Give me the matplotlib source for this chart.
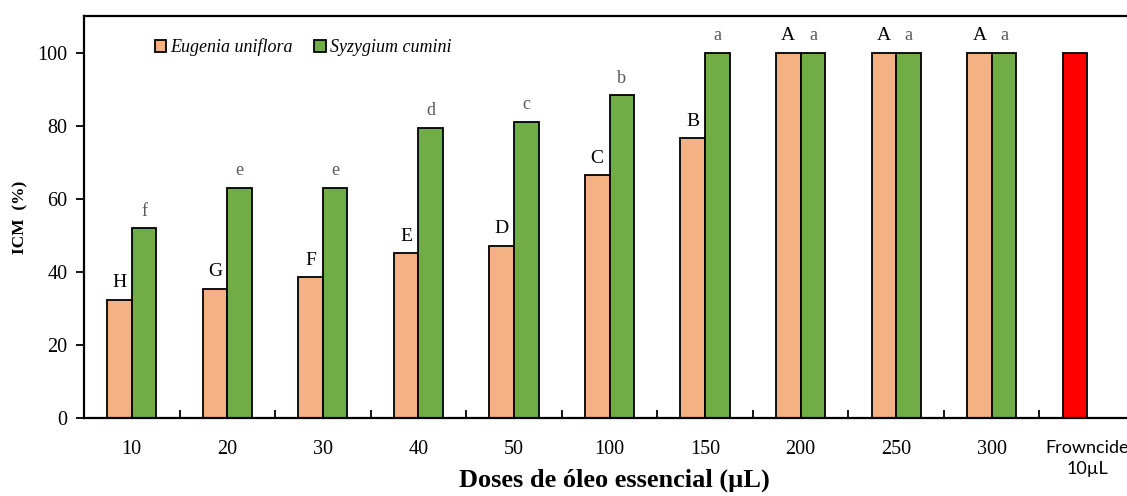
import matplotlib.pyplot as plt
import numpy as np

categories = ["10", "20", "30", "40", "50", "100", "150", "200", "250", "300", "Frowncide\n10µL"]
eugenia = [32.4, 35.4, 38.5, 45.1, 47.2, 66.4, 76.5, 100, 100, 100]
syzygium = [52.0, 63.0, 63.0, 79.4, 81.1, 88.3, 100, 100, 100, 100]
frowncide = 100
eugenia_letters = ["H", "G", "F", "E", "D", "C", "B", "A", "A", "A"]
syzygium_letters = ["f", "e", "e", "d", "c", "b", "a", "a", "a", "a"]

orange = "#F4B183"
green = "#70AD47"
red = "#FF0000"
serif = "Liberation Serif"

W, H = 1127, 496
fig = plt.figure(figsize=(W / 100, H / 100), dpi=100)
ax = fig.add_axes([84 / W, (H - 418) / H, (1131 - 84) / W, (418 - 16) / H])

width = 0.257
x = np.arange(len(eugenia))
b1 = ax.bar(x - width / 2, eugenia, width, color=orange, edgecolor="black",
            linewidth=1.3, label="Eugenia uniflora", zorder=2)
b2 = ax.bar(x + width / 2, syzygium, width, color=green, edgecolor="black",
            linewidth=1.3, label="Syzygium cumini", zorder=2)
ax.bar([len(eugenia) - width / 2], [frowncide], width, color=red,
       edgecolor="black", linewidth=1.3, zorder=2)

for xi, v, t in zip(x, eugenia, eugenia_letters):
    ax.text(xi - width / 2, v + 2.3, t, ha="center", va="bottom",
            fontsize=14, family=serif, color="black")
for xi, v, t in zip(x, syzygium, syzygium_letters):
    ax.text(xi + width / 2, v + 2.3, t, ha="center", va="bottom",
            fontsize=13, family=serif, color="#595959")

ax.set_xlim(-0.5, 10.5 - 4 / 95.2)
ax.set_ylim(0, 110)
ax.set_yticks(range(0, 101, 20))
ax.set_xticks(range(len(categories)))
ax.set_xticklabels(categories)
ax.set_xticks(np.arange(0.5, 10, 1), minor=True)
ax.tick_params(axis="x", which="major", length=0, pad=16)
ax.tick_params(axis="x", which="minor", direction="in", length=6, width=1.3)
ax.tick_params(axis="y", direction="out", length=6, width=1.3, pad=6)

for lab in ax.get_yticklabels():
    lab.set_fontfamily(serif)
    lab.set_fontsize(14.5)
for i, lab in enumerate(ax.get_xticklabels()):
    if i == len(categories) - 1:
        lab.set_fontfamily("Lato")
        lab.set_fontsize(13)
        lab.set_linespacing(1.4)
    else:
        lab.set_fontfamily(serif)
        lab.set_fontsize(14.5)

ax.spines["right"].set_visible(False)
for s in ["left", "top", "bottom"]:
    ax.spines[s].set_linewidth(1.6)

ax.set_ylabel("ICM  (%)", fontsize=12.5, fontweight="bold", family=serif)
ax.yaxis.set_label_coords(-0.0535, 0.5)
ax.set_xlabel("Doses de óleo essencial (µL)", fontsize=19, fontweight="bold",
              family=serif)
ax.xaxis.set_label_coords(0.507, -0.125)

leg = ax.legend(handles=[b1, b2], loc="upper left", bbox_to_anchor=(0.052, 0.985),
                ncol=2, frameon=False, handlelength=0.65, handleheight=0.65,
                handletextpad=0.2, columnspacing=1.2,
                prop={"family": serif, "style": "italic", "size": 13})

fig.savefig("out.png", dpi=100)
